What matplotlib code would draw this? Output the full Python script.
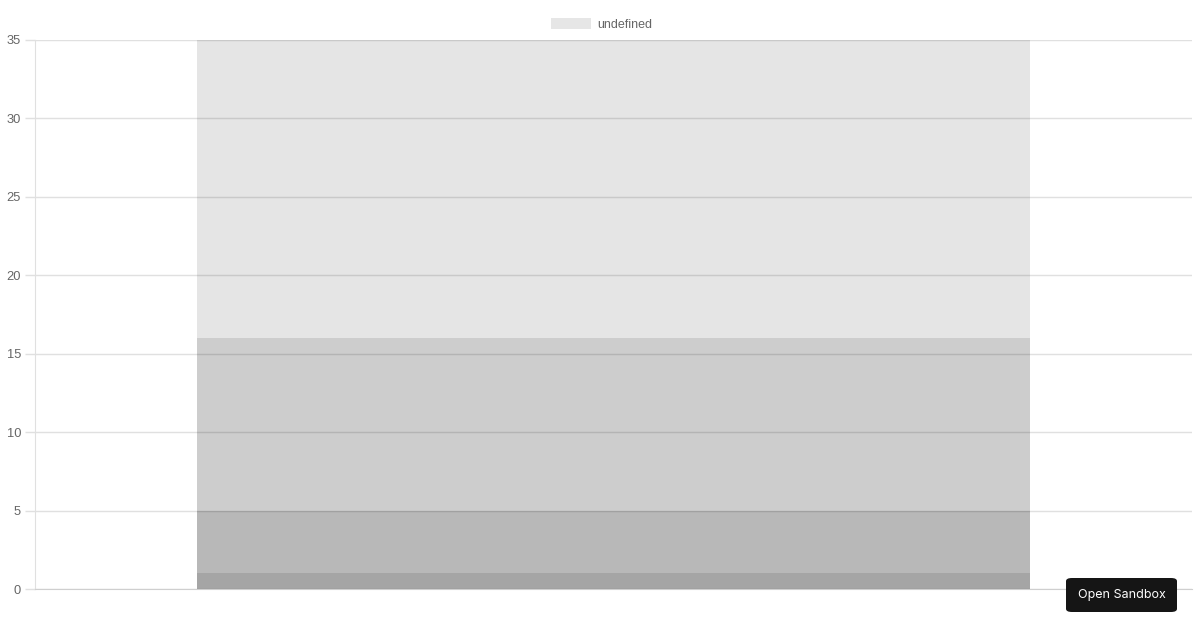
"""Overlapping translucent bars, one category, Chart.js look."""

import matplotlib

matplotlib.use("Agg")
import matplotlib.pyplot as plt
from matplotlib.patches import FancyBboxPatch

# one category, four datasets drawn on top of each other
categories = [""]
dataset_values = [35, 16, 5, 1]
legend_label = "undefined"
y_ticks = [0, 5, 10, 15, 20, 25, 30, 35]

plt.rcParams["font.family"] = ["Liberation Sans", "DejaVu Sans"]

W, H = 1200, 630
fig = plt.figure(figsize=(W / 100, H / 100), dpi=100)

# plot area in pixels: x 35..1192, y 40..589
ax = fig.add_axes([35 / W, (H - 589) / H, (1192 - 35) / W, (589 - 40) / H])

for v in dataset_values:
    ax.bar(categories, [v], width=0.72, color=(0, 0, 0, 0.1), zorder=2)

ax.set_xlim(-0.5, 0.5)
ax.set_ylim(0, 35)
ax.set_yticks(y_ticks)
ax.set_yticklabels([str(t) for t in y_ticks])
ax.set_xticks([])

ax.grid(axis="y", color="#e0e0e0", linewidth=1, zorder=1)
ax.set_axisbelow(True)
for side in ("top", "right"):
    ax.spines[side].set_visible(False)
ax.spines["left"].set_color("#e0e0e0")
ax.spines["bottom"].set_color("#cfcfcf")
ax.tick_params(axis="y", length=7, width=1, color="#e0e0e0",
               labelsize=9.3, labelcolor="#666666", pad=3)

# legend: swatch + label, centred above the plot
fig.patches.append(plt.Rectangle((551 / W, 1 - 29 / H), 40 / W, 11 / H,
                                 transform=fig.transFigure,
                                 facecolor="#e6e6e6", edgecolor="none"))
fig.text(597 / W, 1 - 24.5 / H, legend_label, fontsize=9, color="#666666",
         ha="left", va="center")

# the "Open Sandbox" badge in the corner
fig.patches.append(FancyBboxPatch((1066 / W, 1 - 612 / H), 111 / W, 34 / H,
                                  boxstyle="round,pad=0,rounding_size=0.005",
                                  transform=fig.transFigure,
                                  facecolor="#151515", edgecolor="none"))
fig.text(1121.5 / W, 1 - 595 / H, "Open Sandbox", fontsize=9, color="white",
         ha="center", va="center", family=["Inter", "DejaVu Sans"])

fig.savefig("out.png", dpi=100)
